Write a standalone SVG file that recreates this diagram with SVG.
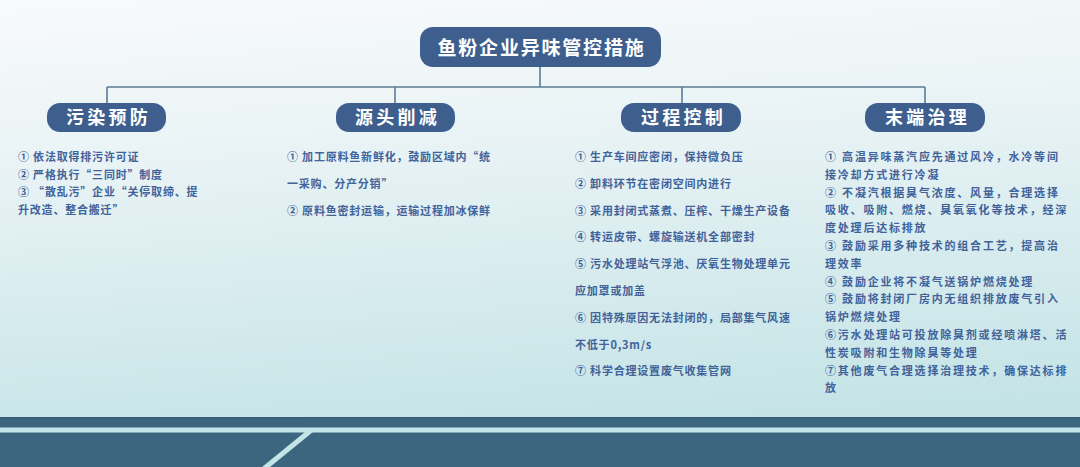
<svg xmlns="http://www.w3.org/2000/svg" width="1080" height="467" viewBox="0 0 1080 467">
<defs>
<linearGradient id="bg" x1="0" y1="0" x2="0.15" y2="1">
<stop offset="0" stop-color="#f8fafb"/>
<stop offset="0.35" stop-color="#e9f3f5"/>
<stop offset="1" stop-color="#c3e3e6"/>
</linearGradient>
<style>
.box{fill:#3e5f8e;}
.title{font-family:"Noto Sans CJK SC","Liberation Sans",sans-serif;font-weight:700;fill:#ffffff;font-size:19px;letter-spacing:1.8px;text-anchor:middle;}
.lbl{font-family:"Noto Sans CJK SC","Liberation Sans",sans-serif;font-weight:700;fill:#ffffff;font-size:18px;letter-spacing:3.3px;text-anchor:middle;}
.item{font-family:"Noto Sans CJK SC","Liberation Sans",sans-serif;font-weight:700;fill:#41629a;font-size:11px;letter-spacing:0.8px;}
.item4{letter-spacing:1.8px;}
.conn{fill:none;stroke:#5d7b98;stroke-width:1.6;}
</style>
</defs>
<rect x="0" y="0" width="1080" height="467" fill="url(#bg)"/>
<g id="footer">
<rect x="0" y="417" width="1080" height="50" fill="#3c6680"/>
<rect x="0" y="417" width="1080" height="1.5" fill="#355d76"/>
<rect x="0" y="427.5" width="1080" height="5" fill="#c4e5e8"/>
<polygon points="305,432 313,432 270,467 262,467" fill="#c4e5e8"/>
</g>
<g id="connectors">
<path class="conn" d="M540,67 V87 M107,87 H925 M107,87 V103 M395,87 V103 M682,87 V103 M925,87 V103"/>
</g>
<g id="root">
<rect class="box" x="420" y="27" width="241" height="40" rx="13" ry="13"/>
<text class="title" x="541.5" y="54.5">鱼粉企业异味管控措施</text>
</g>
<g id="node-prevention">
<rect class="box" x="47" y="103" width="119" height="29" rx="13" ry="13"/>
<text class="lbl" x="108.5" y="123.5">污染预防</text>
<text class="item" x="18" y="160.6">① 依法取得排污许可证</text>
<text class="item" x="18" y="178.5">② 严格执行“三同时”制度</text>
<text class="item" x="18" y="196.4">③ “散乱污”企业“关停取缔、提</text>
<text class="item" x="18" y="214.3">升改造、整合搬迁”</text>
</g>
<g id="node-source">
<rect class="box" x="336" y="103" width="119" height="29" rx="13" ry="13"/>
<text class="lbl" x="397.5" y="123.5">源头削减</text>
<text class="item" x="287" y="161">① 加工原料鱼新鲜化，鼓励区域内“统</text>
<text class="item" x="287" y="188">一采购、分产分销”</text>
<text class="item" x="287" y="215">② 原料鱼密封运输，运输过程加冰保鲜</text>
</g>
<g id="node-process">
<rect class="box" x="621" y="103" width="120" height="29" rx="13" ry="13"/>
<text class="lbl" x="683.5" y="123.5">过程控制</text>
<text class="item" x="575" y="161">① 生产车间应密闭，保持微负压</text>
<text class="item" x="575" y="187.8">② 卸料环节在密闭空间内进行</text>
<text class="item" x="575" y="214.6">③ 采用封闭式蒸煮、压榨、干燥生产设备</text>
<text class="item" x="575" y="241.4">④ 转运皮带、螺旋输送机全部密封</text>
<text class="item" x="575" y="268.2">⑤ 污水处理站气浮池、厌氧生物处理单元</text>
<text class="item" x="575" y="295">应加罩或加盖</text>
<text class="item" x="575" y="321.8">⑥ 因特殊原因无法封闭的，局部集气风速</text>
<text class="item" x="575" y="348.6">不低于0,3m/s</text>
<text class="item" x="575" y="375.4">⑦ 科学合理设置废气收集管网</text>
</g>
<g id="node-end">
<rect class="box" x="865" y="103" width="120" height="29" rx="13" ry="13"/>
<text class="lbl" x="927.5" y="123.5">末端治理</text>
<text class="item item4" x="825" y="161">① 高温异味蒸汽应先通过风冷，水冷等间</text>
<text class="item item4" x="825" y="178.8">接冷却方式进行冷凝</text>
<text class="item item4" x="825" y="196.6">② 不凝汽根据臭气浓度、风量，合理选择</text>
<text class="item item4" x="825" y="214.4">吸收、吸附、燃烧、臭氧氧化等技术，经深</text>
<text class="item item4" x="825" y="232.2">度处理后达标排放</text>
<text class="item item4" x="825" y="250">③ 鼓励采用多种技术的组合工艺，提高治</text>
<text class="item item4" x="825" y="267.8">理效率</text>
<text class="item item4" x="825" y="285.6">④ 鼓励企业将不凝气送锅炉燃烧处理</text>
<text class="item item4" x="825" y="303.4">⑤ 鼓励将封闭厂房内无组织排放废气引入</text>
<text class="item item4" x="825" y="321.2">锅炉燃烧处理</text>
<text class="item item4" x="825" y="339">⑥污水处理站可投放除臭剂或经喷淋塔、活</text>
<text class="item item4" x="825" y="356.8">性炭吸附和生物除臭等处理</text>
<text class="item item4" x="825" y="374.6">⑦其他废气合理选择治理技术，确保达标排</text>
<text class="item item4" x="825" y="392.4">放</text>
</g>
</svg>
